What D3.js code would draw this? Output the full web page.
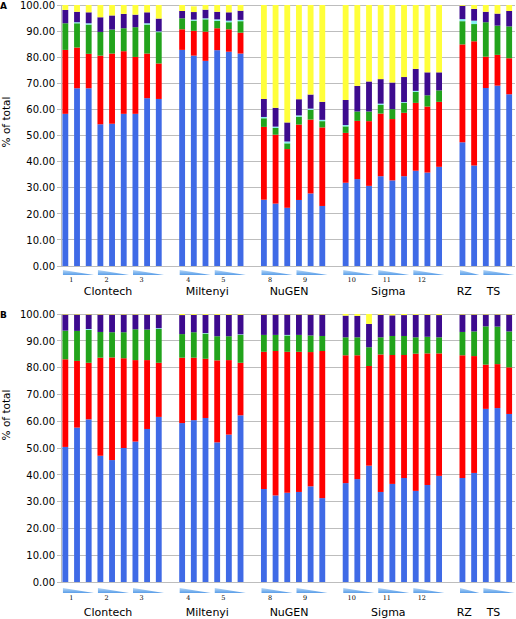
<!DOCTYPE html>
<html><head><meta charset="utf-8">
<script src="https://cdn.jsdelivr.net/npm/d3@7"></script>
<style>body{margin:0;background:#fff;}svg{display:block;}</style>
</head><body>
<svg id="chart" width="516" height="619"></svg>
<script>
// slots (bars + blank gap slots)
const slots = ["C1","C2","C3","C4","C5","C6","C7","C8","C9","g1",
  "M1","M2","M3","M4","M5","M6","g2",
  "N1","N2","N3","N4","N5","N6","g3",
  "S1","S2","S3","S4","S5","S6","S7","S8","S9","g4",
  "R1","R2","T1","T2","T3"];
const bars = slots.filter(s => !s.startsWith("g"));
const seriesNames = ["blue","red","green","cyan","purple","yellow"];
const seriesColors = ["#3f6ae6","#ff0000","#22a31c","#86eef0","#3d0b8e","#ffff3a"];
const yTicks = [0,10,20,30,40,50,60,70,80,90,100];

// triangle dilution groups
const dilGroups = [
  {bars:["C1","C2","C3"], label:"1"},{bars:["C4","C5","C6"], label:"2"},{bars:["C7","C8","C9"], label:"3"},
  {bars:["M1","M2","M3"], label:"4"},{bars:["M4","M5","M6"], label:"5"},
  {bars:["N1","N2","N3"], label:"8"},{bars:["N4","N5","N6"], label:"9"},
  {bars:["S1","S2","S3"], label:"10"},{bars:["S4","S5","S6"], label:"11"},{bars:["S7","S8","S9"], label:"12"},
  {bars:["R1","R2"], label:""},{bars:["T1","T2","T3"], label:""}];
const kitNames = ["Clontech","Miltenyi","NuGEN","Sigma","RZ","TS"];
const kitBars = [["C1","C9"],["M1","M6"],["N1","N6"],["S1","S9"],["R1","R2"],["T1","T3"]];

// Panel A values (segments, bottom to top), one entry per bar
const aBlue   = [58.3,68.1,68.1,54.3,54.5,58.3,58.3,64.3,64.0, 82.8,80.6,78.6,82.7,82.1,81.4, 25.4,23.9,22.3,25.3,27.8,23.0, 31.9,33.3,30.7,34.4,32.8,34.4,36.5,35.8,38.0, 47.4,38.5, 68.2,69.1,65.8];
const aRed    = [24.5,15.6,13.2,26.3,26.9,24.0,21.8,17.1,13.6, 7.9,9.5,11.2,8.4,8.6,8.0, 27.9,26.4,22.5,28.9,28.3,30.1, 19.1,22.3,24.8,24.0,23.5,24.3,26.0,25.3,24.9, 37.5,47.6, 12.0,11.8,13.8];
const aGreen  = [10.2,9.3,11.2,9.1,9.2,8.8,11.4,11.1,12.0, 4.2,3.9,4.7,2.8,2.7,4.4, 3.3,2.6,2.2,3.0,3.7,2.4, 2.5,3.6,3.7,3.3,3.8,3.8,4.2,4.3,4.4, 8.9,6.6, 13.2,11.2,12.2];
const aCyan   = [0,0.4,0.5,0,0,0,0,0.5,0.3, 0,0.4,0.4,0.6,0.6,0.5, 0.5,0.5,0.7,0.5,0.5,0.5, 0.5,0,0,0.5,0,0.3,0.4,0,0, 0.8,1.3, 0,0,0];
const aPurple = [5.1,4.0,4.2,5.6,5.4,5.5,4.8,4.2,4.9, 2.8,2.9,3.3,2.9,3.2,3.5, 6.9,7.2,7.3,6.2,5.4,6.9, 9.6,9.8,11.5,9.4,10.2,9.6,8.4,8.8,6.9, 5.1,4.5, 4.0,4.6,5.9];
const aYellow = [1.9,2.6,2.8,4.7,4.0,3.4,3.7,2.8,5.2, 2.3,2.2,1.8,2.6,2.8,2.2, 36.0,39.4,45.0,36.1,34.3,37.1, 36.4,31.0,29.3,28.4,29.7,27.6,24.5,25.8,25.8, 0.3,1.5, 2.6,3.3,2.3];

// Panel B values
const bBlue   = [50.4,57.6,60.7,47.1,45.5,50.0,52.4,57.1,61.6, 59.3,60.4,61.2,52.1,55.0,62.2, 34.7,32.3,33.3,33.6,35.7,31.3, 36.9,38.4,43.4,33.6,36.6,38.8,34.0,36.2,39.6, 38.8,40.7, 64.6,64.9,62.7];
const bRed    = [32.7,24.9,21.1,36.6,38.3,33.5,30.4,25.7,20.2, 24.4,23.3,22.1,30.6,27.8,19.6, 51.2,53.9,52.6,52.3,50.1,54.9, 47.7,46.2,37.2,51.3,48.1,45.9,51.2,49.1,45.7, 45.8,43.6, 16.5,16.4,17.4];
const bGreen  = [10.7,11.2,12.3,9.6,9.4,9.7,11.5,11.4,12.6, 8.8,9.5,9.4,9.0,8.9,10.4, 6.3,6.0,6.1,6.3,6.2,5.6, 6.7,6.7,7.0,6.4,7.1,7.1,6.1,6.2,6.0, 8.7,9.2, 14.3,14.0,13.4];
const bCyan   = [0,0,0.3,0,0,0,0,0,0.3, 0,0,0.2,0,0,0.2, 0,0,0.2,0,0,0, 0,0,0,0,0,0,0,0,0, 0,0, 0,0,0];
const bPurple = [6.0,6.1,5.4,6.5,6.6,6.6,5.5,5.6,5.1, 7.1,6.5,6.8,8.0,8.0,7.3, 7.6,7.6,7.6,7.6,7.8,8.0, 8.1,8.0,8.7,8.4,7.7,7.8,8.4,8.2,8.3, 6.5,6.3, 4.4,4.5,6.3];
const bYellow = [0.2,0.2,0.2,0.2,0.2,0.2,0.2,0.2,0.2, 0.4,0.3,0.3,0.3,0.3,0.3, 0.2,0.2,0.2,0.2,0.2,0.2, 0.6,0.7,3.7,0.3,0.5,0.4,0.3,0.3,0.4, 0.2,0.2, 0.2,0.2,0.2];

const panels = [
  {letter:"A", top:5, bottom:266, labelY:122, triY:275, numY:282, nameY:295, letterY:8.5,
   data:[aBlue,aRed,aGreen,aCyan,aPurple,aYellow]},
  {letter:"B", top:314, bottom:582, labelY:415, triY:593, numY:600, nameY:616, letterY:318,
   data:[bBlue,bRed,bGreen,bCyan,bPurple,bYellow]}
];

const svg = d3.select("#chart");
const font = "'DejaVu Sans', Verdana, sans-serif";
const x = d3.scaleBand().domain(slots).range([59.5, 515]).paddingInner(0.5).paddingOuter(0.25);

const defs = svg.append("defs");
const grad = defs.append("linearGradient").attr("id","tri").attr("x1",0).attr("y1",0).attr("x2",0).attr("y2",1);
grad.append("stop").attr("offset","0%").attr("stop-color","#b4d6f7");
grad.append("stop").attr("offset","100%").attr("stop-color","#5a9ee8");

panels.forEach(p => {
  const y = d3.scaleLinear().domain([0,100]).range([p.bottom, p.top]);
  const g = svg.append("g");
  // gridlines
  g.append("g").selectAll("line").data(yTicks).join("line")
    .attr("x1", 57).attr("x2", 515).attr("y1", d => y(d)).attr("y2", d => y(d))
    .attr("stroke", "#bdbdbd").attr("stroke-width", 1).attr("shape-rendering","crispEdges");
  // y axis
  const ax = d3.axisLeft(y).tickValues(yTicks).tickFormat(d3.format(".2f")).tickSize(0).tickPadding(6);
  const axg = g.append("g").attr("transform", "translate(61,0)").call(ax);
  axg.select(".domain").attr("stroke", "#bdbdbd");
  axg.selectAll("text").attr("font-family", font).attr("font-size", 10).attr("fill", "#000");
  // stacked bars
  const rows = bars.map((b,i) => { const o = {id:b}; seriesNames.forEach((s,k)=> o[s] = p.data[k][i]); return o; });
  const stack = d3.stack().keys(seriesNames)(rows);
  g.append("g").selectAll("g").data(stack).join("g")
    .attr("fill", (d,i) => seriesColors[i])
    .selectAll("rect").data(d => d).join("rect")
    .attr("x", d => x(d.data.id)).attr("width", x.bandwidth())
    .attr("y", d => y(d[1])).attr("height", d => Math.max(0, y(d[0]) - y(d[1])));
  // triangles
  const tb = p.triY;
  const tg = g.append("g");
  dilGroups.forEach(dg => {
    const x0 = x(dg.bars[0]) + 0.5;
    const x1 = x0 + dg.bars.length * x.step() - 4;
    tg.append("path").attr("d", `M${x0},${tb-5}L${x1},${tb}L${x0},${tb}Z`).attr("fill","url(#tri)");
    if (dg.label) tg.append("text").attr("x", x0 + 8.5).attr("y", p.numY).attr("text-anchor","middle")
      .attr("font-family","'DejaVu Serif', serif").attr("font-size", 6.5).text(dg.label);
  });
  // kit names
  kitNames.forEach((k,i) => {
    const cx = (x(kitBars[i][0]) + x(kitBars[i][1]) + x.bandwidth())/2 - 4;
    g.append("text").attr("x", cx).attr("y", p.nameY).attr("text-anchor","middle")
      .attr("font-family", font).attr("font-size", 11).text(k);
  });
  // y label
  g.append("text").attr("transform", `translate(10,${p.labelY}) rotate(-90)`).attr("text-anchor","middle")
    .attr("font-family", font).attr("font-size", 10.5).text("% of total");
  // panel letter
  g.append("text").attr("x", 0).attr("y", p.letterY).attr("font-family", font)
    .attr("font-weight","bold").attr("font-size", 9).text(p.letter);
});
</script>
</body></html>
